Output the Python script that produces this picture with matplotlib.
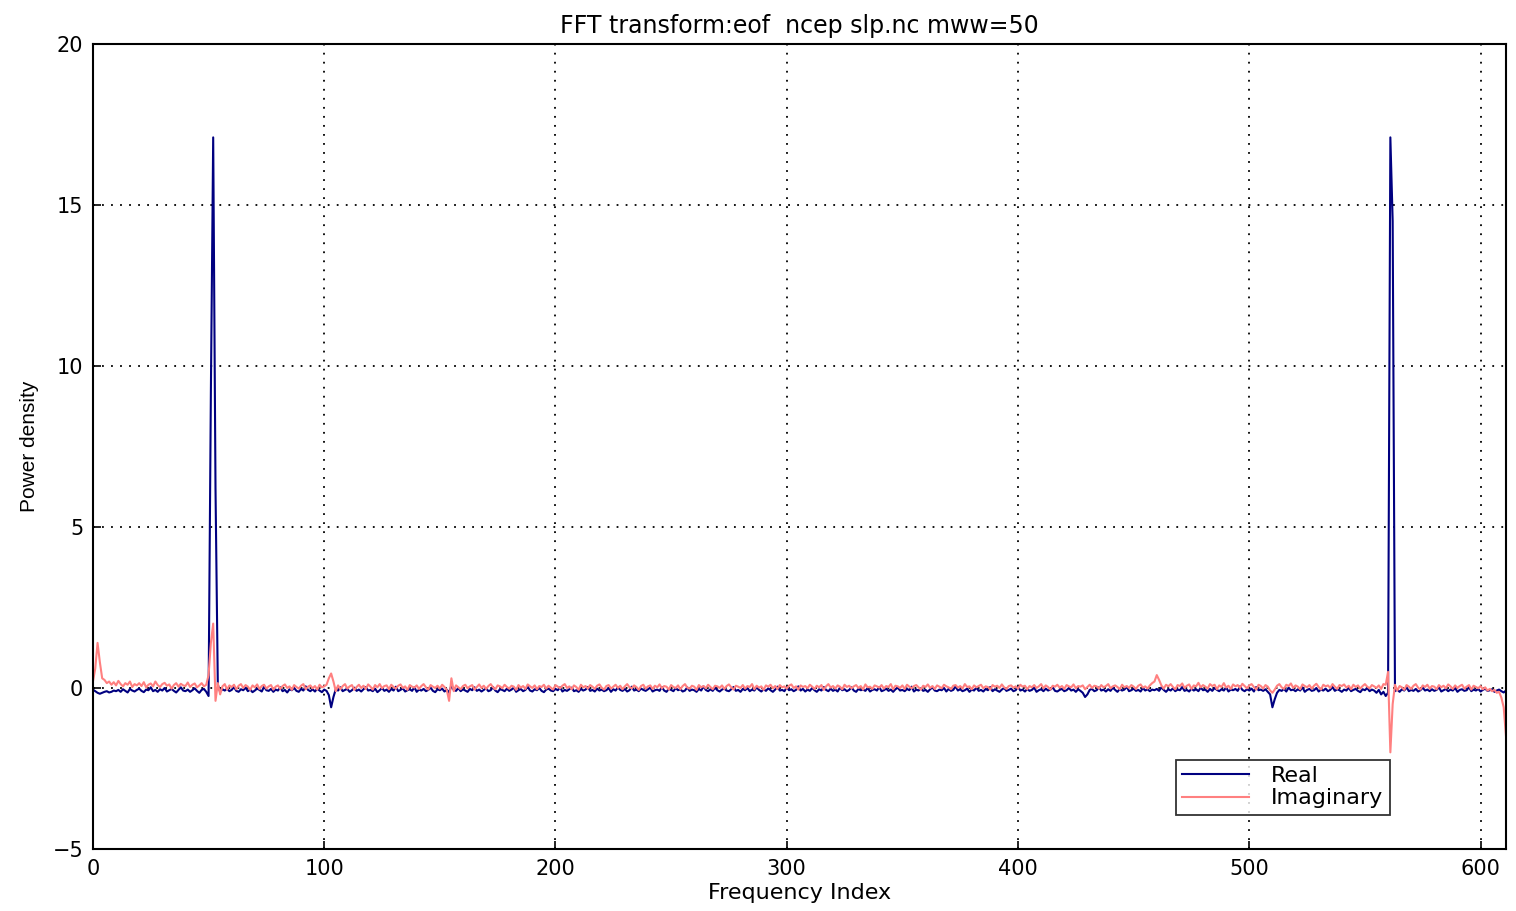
import numpy as np
import matplotlib
matplotlib.use("Agg")
import matplotlib.pyplot as plt

# values, in hundredths
real_h = [
    -5, -10, -15, -18, -15, -12, -10, -14, -12, -8, -10, -6, -12, -4, -9, -14, -3, -8, -11, -6,
    -2, -9, -13, -5, -7, 2, -10, -6, -12, -4, -8, 0, -11, -7, -3, -9, -14, -6, 2, -8,
    -10, -5, -12, -7, -1, -9, -15, -6, -3, -12, -25, 920, 1710, 620, 10, -12, -4, -8, -2, -10,
    -6, 3, -9, -12, -4, -7, 1, -10, -5, -13, -8, -2, -6, -11, 4, -7, -9, -3, -12, -5,
    -8, 2, -10, -6, -14, -4, -7, 0, -9, -12, -3, -8, 5, -6, -10, -4, -11, -2, -8, -13,
    -5, -9, -22, -60, -28, -4, -8, 2, -10, -6, -3, -12, -7, 1, -9, -5, -11, -4, 3, -8,
    -6, -10, -2, -13, -7, 0, -9, -5, -12, -3, -8, 4, -10, -6, -1, -11, -7, -4, -9, 2,
    -12, -5, -8, -3, -10, -6, 1, -9, -13, -4, -7, -2, -11, -5, -15, 8, -6, -9, 0, -10,
    -4, -8, -12, -3, -7, 2, -9, -5, -11, -6, -1, -10, -7, 3, -8, -13, -4, -6, -10, -2,
    -9, -5, 1, -12, -7, -3, -10, -6, 4, -8, -11, -4, -7, 0, -9, -13, -5, -2, -8, -10,
    -3, -7, 2, -11, -6, -9, -4, 1, -10, -7, -12, -3, -8, -5, 3, -9, -6, -11, -2, -8,
    -5, -10, -7, 0, -12, -4, -8, 2, -6, -9, -3, -11, -7, 4, -8, -5, -10, -2, -6, -9,
    -4, 1, -11, -7, -5, -9, 3, -8, -12, -3, -6, -10, 0, -7, -4, -11, -8, 2, -9, -5,
    -7, -12, -3, -8, 5, -6, -10, -4, -9, 1, -7, -11, -5, -2, -8, -10, -4, 3, -9, -6,
    -12, -3, -7, 0, -10, -5, -8, 2, -6, -11, -4, -9, -1, -7, -12, -5, 4, -8, -6, -10,
    2, -7, -4, -10, -6, 5, -8, -3, -11, -5, -9, 0, -7, -12, -4, -8, 3, -6, -10, -2,
    -9, -5, -11, 1, -7, -4, -10, -6, 2, -8, -12, -3, -7, -5, -9, 0, -11, -6, -4, -8,
    3, -10, -7, -2, -9, -5, -12, -4, 1, -8, -6, -10, -3, -7, 4, -11, -5, -8, -1, -9,
    -6, -12, -4, 2, -8, -10, -5, -7, 0, -11, -3, -9, -6, 5, -8, -4, -10, -7, -2, -12,
    -5, -8, 1, -9, -6, -11, -3, -7, 3, -10, -4, -8, -12, -5, 0, -9, -6, -2, -10, -7,
    4, -8, -5, -11, -3, -9, -6, 1, -12, -7, -4, -10, -2, -8, -5, 2, -9, -11, -6, -3,
    -10, -7, 0, -8, -5, -12, -4, -9, -15, -28, -20, -6, -3, -10, -7, 2, -8, -5, -11, -4,
    -9, 1, -6, -12, -3, -8, -5, 4, -10, -7, -2, -9, -6, -11, 0, -8, -4, -10, -5, -7,
    -3, -9, 2, -6, -12, -4, -8, -1, -10, -5, -7, 3, -9, -6, -11, -2, -8, -4, -10, 1,
    -7, -5, -12, -3, -9, 0, -6, -10, -4, -8, 2, -11, -5, -7, -3, -9, 5, -6, -10, -4,
    -8, -2, -11, 3, -7, -5, -9, -4, -12, -20, -60, -35, -15, -6, -9, -3, -11, 1, -7, -5,
    -10, -4, -8, 2, -12, -6, -3, -9, -7, 0, -11, -5, -8, -2, -10, -6, 3, -9, -4, -7,
    -12, -5, -8, 1, -10, -6, -3, -9, -13, -4, -7, 0, -10, -5, -8, -15, -6, -20, -12, -25,
    -15, 1710, 1450, -10, -5, -12, -4, -8, 2, -10, -6, -9, -3, -11, -7, 1, -8, -5, -10, -4,
    -9, -6, 2, -11, -7, -3, -10, -5, -8, 0, -12, -6, -4, -9, -7, 3, -10, -5, -8, -3,
    -11, -6, -2, -9, -7, -4, -12, -8, -5, -10, -14, -8,
]

imag_h = [
    20, 60, 140, 80, 30, 25, 15, 20, 10, 18, 8, 22, 12, 5, 15, 10, 20, 3, 12, 8,
    15, 6, 18, 2, 10, 14, 5, 20, 9, 3, 12, 16, 7, 11, -2, 9, 15, 4, 13, 8,
    6, 17, 3, 10, 14, 2, 8, 15, 5, 10, 40, 140, 200, -40, 15, -20, 5, 12, -5, 8,
    3, 10, -4, 7, 12, 0, 9, 4, -6, 8, 2, 11, -3, 6, 10, -2, 5, 9, -5, 4,
    8, -3, 6, 11, 0, 5, -6, 9, 3, -2, 7, 12, -4, 4, 8, -1, 6, -5, 10, 2,
    5, 10, 30, 45, 20, -10, 8, -4, 6, 12, -2, 5, 9, -6, 3, 10, 0, 7, -3, 11,
    4, -5, 9, 2, 12, -1, 6, 8, -4, 10, 3, -2, 7, 11, 0, 5, -6, 9, 4, 1,
    8, -3, 6, 12, 2, -5, 9, 4, 0, 7, -2, 10, 3, -6, -40, 30, -10, 8, 2, -4,
    6, 10, -1, 5, 9, -5, 3, 11, 0, 7, -3, 6, 12, 2, -4, 8, 5, -1, 10, 3,
    -2, 7, 4, -6, 9, 1, 6, -3, 11, 5, 0, 8, -4, 6, 3, 10, -2, 7, 1, -5,
    9, 4, -1, 7, 12, 0, 5, -4, 8, 3, -6, 10, 2, 6, -2, 9, 4, -3, 7, 11,
    1, -5, 6, 9, -2, 4, 10, 0, 7, -4, 5, 12, 2, -1, 8, 3, -6, 6, 10, -2,
    5, 8, -3, 7, 2, 11, -1, 6, 4, -5, 9, 3, 0, 8, -4, 6, 12, 1, -2, 7,
    4, -6, 9, 2, 6, -1, 10, 3, -4, 7, 5, 0, 8, -3, 6, 11, 2, -5, 7, 4,
    0, 9, -2, 6, 3, 12, -4, 7, 1, 5, -6, 8, 4, 10, -1, 6, -3, 9, 2, 5,
    -2, 7, 11, 0, 5, -5, 8, 3, 6, -1, 10, 4, -3, 7, 2, 9, -6, 5, 12, 1,
    6, -2, 8, 4, -4, 10, 3, 7, -1, 5, 9, 0, 6, -5, 11, 2, 4, -3, 8, 5,
    1, 9, -2, 6, 3, 12, -4, 7, 5, 0, 8, -3, 10, 4, -1, 6, 9, 2, -5, 7,
    3, 11, 0, 6, -3, 8, 4, -1, 10, 5, 2, -4, 7, 9, 1, 6, -2, 12, 3, 5,
    -4, 8, 2, 6, 10, -1, 5, 3, -5, 9, 4, 7, 0, 11, 2, -3, 6, 8, 1, 5,
    -2, 10, 4, 7, -4, 6, 2, 9, 0, 5, 12, -1, 8, 3, -5, 7, 4, 10, 1, 6,
    -3, 9, 5, 2, 11, -1, 6, 4, 8, -4, 3, 10, 0, 7, 5, -2, 9, 2, 6, 12,
    -1, 5, 8, 3, -4, 10, 2, 6, 0, 9, 4, -3, 7, 11, 1, 5, -2, 8, 15, 20,
    40, 25, 8, -2, 10, 5, 12, 3, -4, 9, 6, 14, 0, 7, 11, -3, 8, 5, 16, 2,
    9, 4, -2, 12, 6, 10, -4, 8, 3, 15, 1, 7, -3, 11, 5, 9, 0, 13, 6, -1,
    8, 12, 3, -5, 10, 6, -2, 9, 4, -8, -15, -5, 7, 12, 2, -3, 10, 6, 14, 0,
    8, 4, -4, 11, 6, 2, 9, -2, 7, 13, 3, -5, 10, 5, 8, 0, 12, 4, -3, 9,
    6, 11, 1, 7, -4, 10, 3, 8, -2, 6, 12, 4, -1, 9, 5, 0, 8, -3, 12, 10,
    50, -200, -50, 10, -8, 6, 2, -6, 9, 4, -3, 7, 12, 1, -5, 8, 3, 10, -2, 6,
    4, -4, 9, 2, 7, -1, 11, 5, -3, 8, 0, 6, 10, -2, 4, 9, -5, 7, 3, -1,
    6, -4, 2, -8, -3, -10, -6, -15, -12, -30, -60, -150,
]

x_ticks = [0, 100, 200, 300, 400, 500, 600]
y_ticks = [-5, 0, 5, 10, 15, 20]

real = np.array(real_h) / 100.0
imag = np.array(imag_h) / 100.0

plt.rcParams['font.family'] = ['DejaVu Sans']

fig = plt.figure(figsize=(15.16, 9.11), dpi=100)
ax = fig.add_axes([0.0613, 0.0681, 0.9321, 0.8836])

ax.plot(np.arange(len(real)), real, color='#000080', lw=1.5, label='Real')
ax.plot(np.arange(len(imag)), imag, color='#ff8080', lw=1.5, label='Imaginary')

ax.set_xlim(0, 611)
ax.set_ylim(-5, 20)
ax.set_xticks(x_ticks)
ax.set_yticks(y_ticks)
ax.grid(True, color='black', linestyle=(0, (1, 4)), linewidth=1.3)
ax.tick_params(direction='in', length=6, width=1.2, labelsize=15, pad=7)
for s in ax.spines.values():
    s.set_linewidth(1.5)

ax.set_title('FFT transform:eof  ncep slp.nc mww=50', fontsize=17, pad=8)
ax.set_xlabel('Frequency Index', fontsize=16, labelpad=3)
ax.set_ylabel('Power density', fontsize=15, labelpad=10,
              family=['Liberation Sans Narrow', 'Liberation Sans'])

leg = ax.legend(loc='lower right', bbox_to_anchor=(0.918, 0.042),
                borderaxespad=0, fancybox=False, edgecolor='black',
                fontsize=16, handlelength=3.0, handletextpad=1.0,
                borderpad=0.3, labelspacing=0.1)
leg.get_frame().set_linewidth(1.3)

fig.savefig('out.png', dpi=100)
